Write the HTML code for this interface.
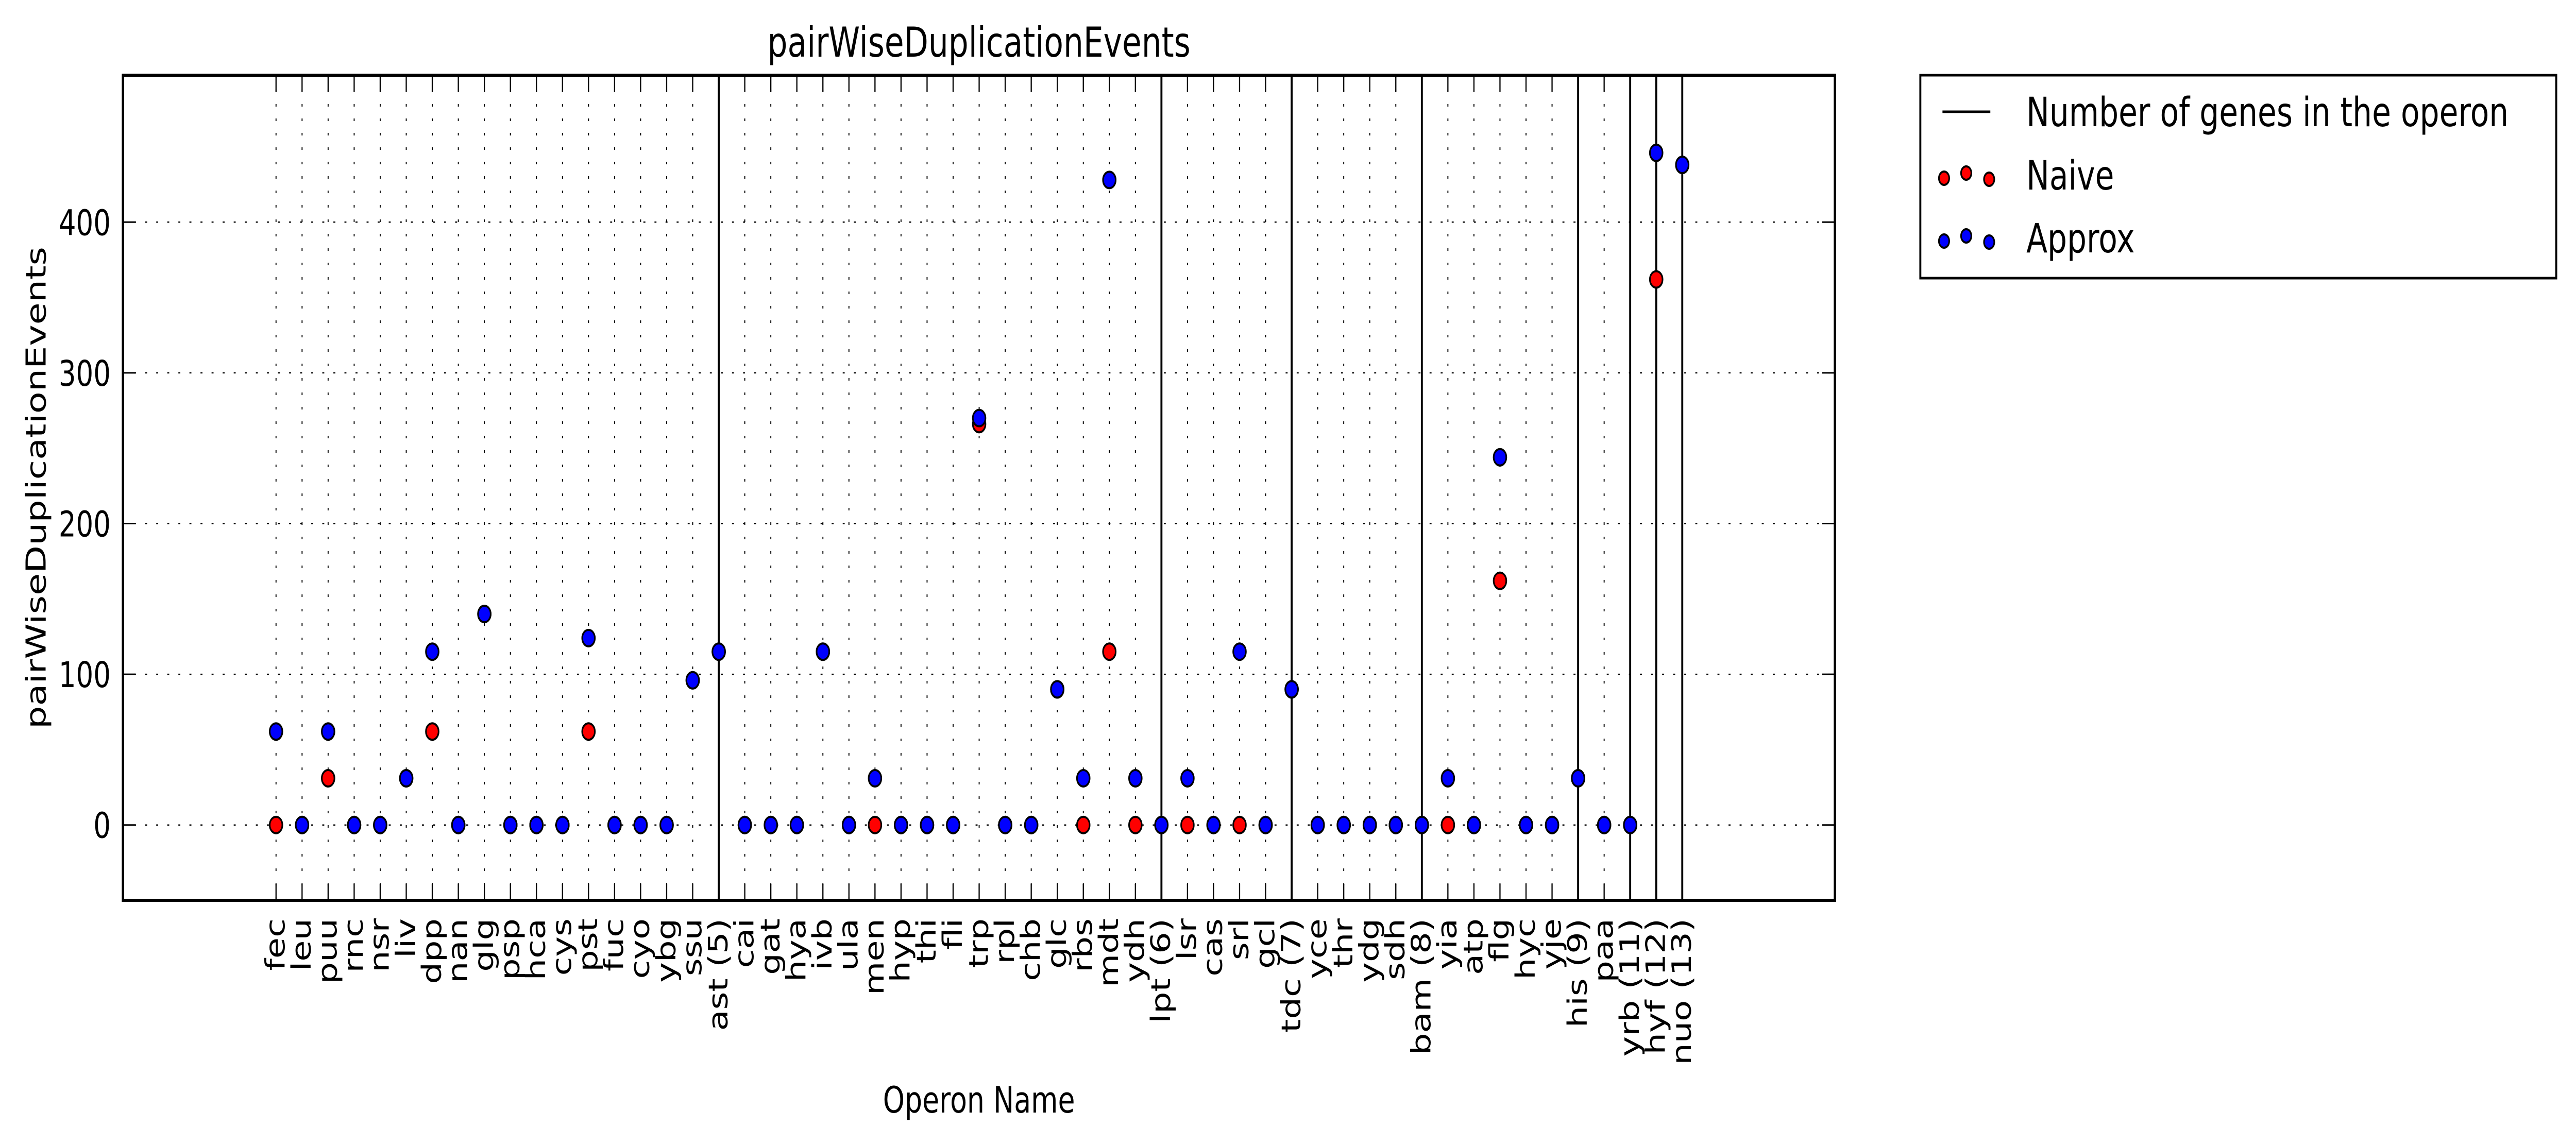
<!DOCTYPE html>
<html><head><meta charset="utf-8"><style>
html,body{margin:0;padding:0;background:#fff;overflow:hidden;width:100%;height:100%;}
svg{display:block;width:100vw;height:100vh;font-family:"DejaVu Sans","Liberation Sans",sans-serif;}
</style></head><body>
<svg id="chart" viewBox="0 0 6514 2223" preserveAspectRatio="none" xmlns="http://www.w3.org/2000/svg"></svg>
<script>
const categories = ["fec","leu","puu","rnc","nsr","liv","dpp","nan","glg","psp","hca","cys","pst","fuc","cyo","ybg","ssu","ast (5)","cai","gat","hya","ivb","ula","men","hyp","thi","fli","trp","rpl","chb","glc","rbs","mdt","ydh","lpt (6)","lsr","cas","srl","gcl","tdc (7)","yce","thr","ydg","sdh","bam (8)","yia","atp","flg","hyc","yje","his (9)","paa","yrb (11)","hyf (12)","nuo (13)"];
const naiveValues = [0,0,31,0,0,31,62,0,140,0,0,0,62,0,0,0,96,115,0,0,0,115,0,0,0,0,0,266,0,0,90,0,115,0,0,0,0,0,0,90,0,0,0,0,0,0,0,162,0,0,31,0,0,362,438];
const approxValues = [62,0,62,0,0,31,115,0,140,0,0,0,124,0,0,0,96,115,0,0,0,115,0,31,0,0,0,270,0,0,90,31,428,31,0,31,0,115,0,90,0,0,0,0,0,31,0,244,0,0,31,0,0,446,438];
const yTicks = [0,100,200,300,400];
const operonLineCats = ["ast (5)","lpt (6)","tdc (7)","bam (8)","his (9)","yrb (11)","hyf (12)","nuo (13)"];

const NS="http://www.w3.org/2000/svg";
const svg=document.getElementById('chart');
const L=311,R=4640,T=146,B=1748;
const yMin=-50,yMax=497.5;
function xPos(i){return 698+i*(4254-698)/54;}
function yPos(v){return B-(v-yMin)/(yMax-yMin)*(B-T);}
function mk(tag,attrs,parent){const e=document.createElementNS(NS,tag);for(const k in attrs)e.setAttribute(k,attrs[k]);(parent||svg).appendChild(e);return e;}

const grid=mk('g',{});


categories.forEach((c,i)=>{const l=mk('line',{x1:xPos(i),x2:xPos(i),y1:T,y2:B,stroke:'#000','stroke-width':2.5,'stroke-dasharray':'5 23'},grid);

});
yTicks.forEach(v=>{const l=mk('line',{x1:L,x2:R,y1:yPos(v),y2:yPos(v),stroke:'#000','stroke-width':2.5,'stroke-dasharray':'5 23'},grid);

});

operonLineCats.forEach(c=>{const i=categories.indexOf(c);const l=mk('line',{x1:xPos(i),x2:xPos(i),y1:T,y2:B,stroke:'#000','stroke-width':5});

});

categories.forEach((c,i)=>{const x=xPos(i);
const t1=mk('line',{x1:x,x2:x,y1:B,y2:B-32,stroke:'#000','stroke-width':3});


const t2=mk('line',{x1:x,x2:x,y1:T,y2:T+32,stroke:'#000','stroke-width':3});


const tx=mk('text',{x:x,y:1783,transform:`rotate(-90 ${x} 1783)`,'text-anchor':'end','dominant-baseline':'central','font-size':67});
tx.textContent=c;

});
yTicks.forEach(v=>{const y=yPos(v);
const t1=mk('line',{x1:L,x2:L+32,y1:y,y2:y,stroke:'#000','stroke-width':3});


const t2=mk('line',{x1:R,x2:R-32,y1:y,y2:y,stroke:'#000','stroke-width':3});


const tx=mk('text',{x:280,y:y+25,'text-anchor':'end','font-size':69});
tx.textContent=v;

});

naiveValues.forEach((v,i)=>{const c=mk('circle',{cx:xPos(i),cy:yPos(v),r:16,fill:'#ff0000',stroke:'#000','stroke-width':4});

});
approxValues.forEach((v,i)=>{const c=mk('circle',{cx:xPos(i),cy:yPos(v),r:16,fill:'#0000ff',stroke:'#000','stroke-width':4});

});

const fr=mk('rect',{x:L,y:T,width:R-L,height:B-T,fill:'none',stroke:'#000','stroke-width':6});



const title=mk('text',{x:(L+R)/2,y:110,'text-anchor':'middle','font-size':80});
title.textContent='pairWiseDuplicationEvents';


const xl=mk('text',{x:(L+R)/2,y:2160,'text-anchor':'middle','font-size':70});
xl.textContent='Operon Name';


const yl=mk('text',{x:91,y:(T+B)/2,'text-anchor':'middle','dominant-baseline':'central','font-size':70,transform:`rotate(-90 91 ${(T+B)/2})`});
yl.textContent='pairWiseDuplicationEvents';



const lg=mk('g',{});


const lb=mk('rect',{x:4856,y:146,width:1608,height:394,fill:'#fff',stroke:'#000','stroke-width':5},lg);


const ll=mk('line',{x1:4912,x2:5033,y1:217,y2:217,stroke:'#000','stroke-width':5},lg);


const entries=[['Number of genes in the operon',217,null],['Naive',340,'#ff0000'],['Approx',462,'#0000ff']];
entries.forEach(([t,y,col])=>{
if(col){[[4916,6],[4972,-4],[5030,8]].forEach(([x,dy])=>{const c=mk('circle',{cx:x,cy:y+dy,r:13,fill:col,stroke:'#000','stroke-width':4},lg);

});}
const tx=mk('text',{x:5124,y:y+28,'font-size':78},lg);
tx.textContent=t;

});
</script>
</body></html>
